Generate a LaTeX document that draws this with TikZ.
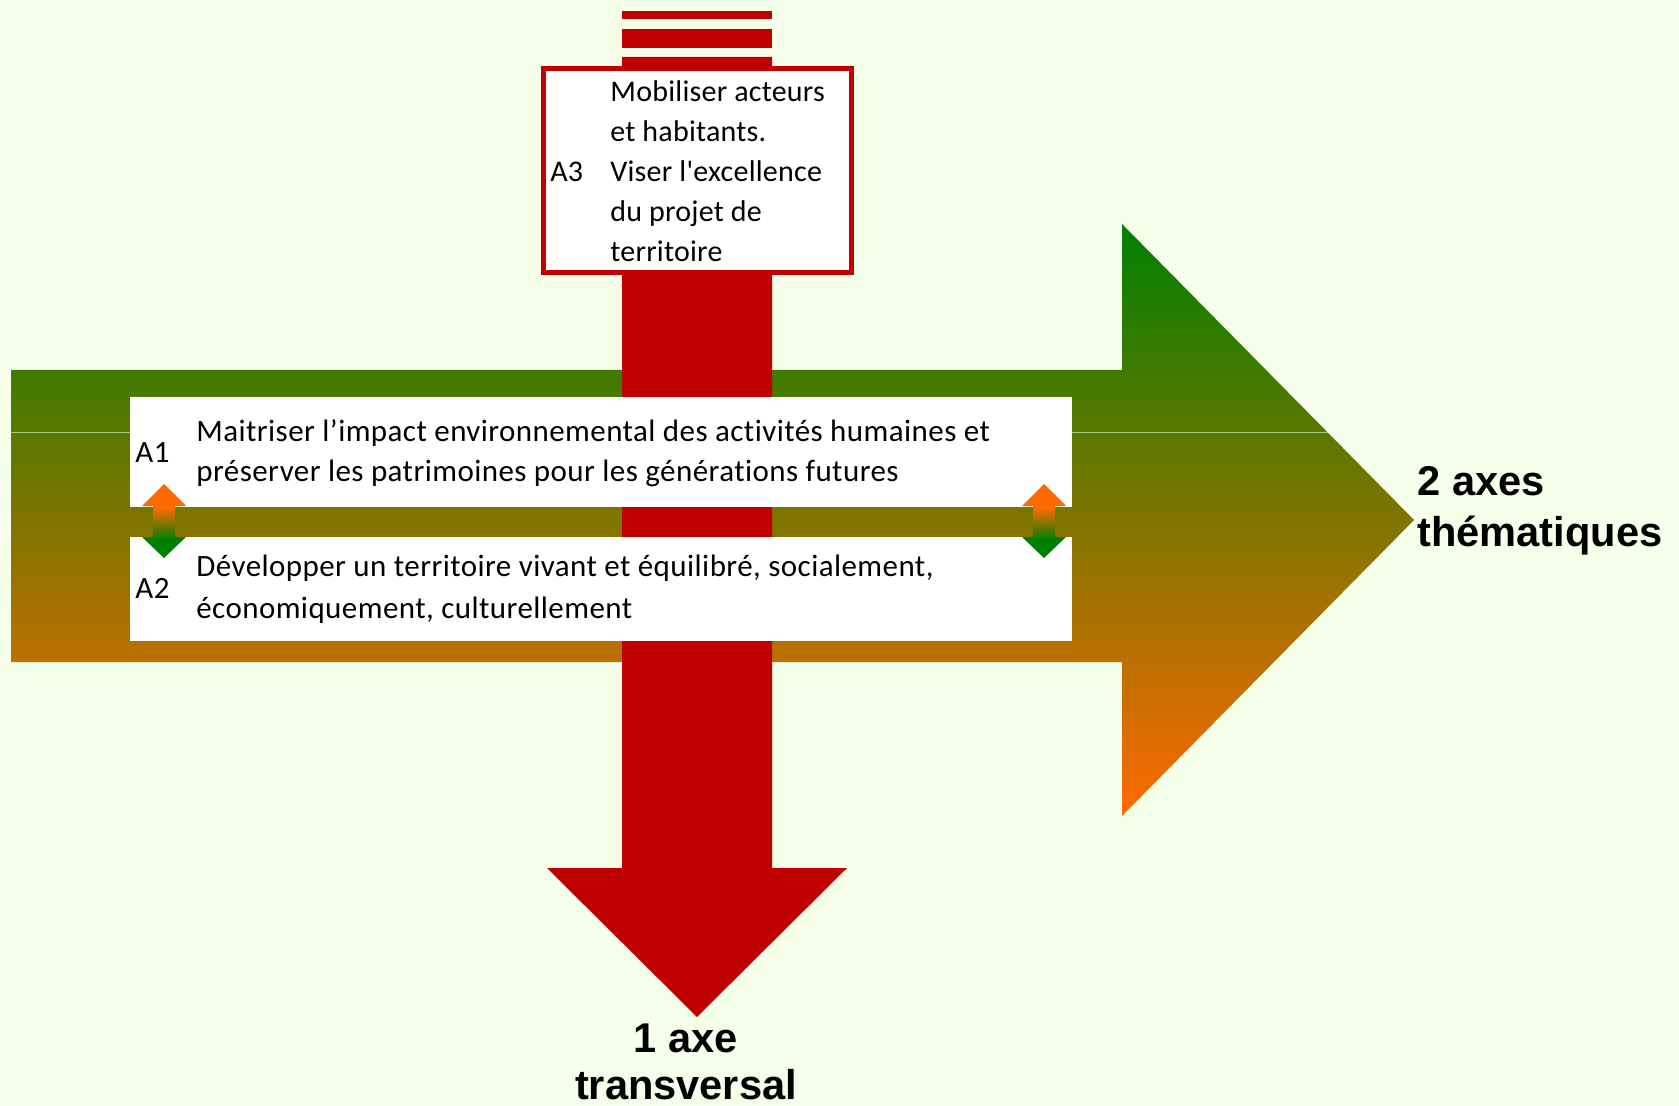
\documentclass[tikz,border=0pt]{standalone}
\usepackage{fontspec}
\setmainfont{Carlito}[Ligatures={TeXOff,NoCommon}]
\newfontfamily\bodyfont{Carlito}[LetterSpace=1.4, Ligatures={TeXOff,NoCommon}]
\newfontfamily\boxfont{Carlito}[LetterSpace=0.8, Ligatures={TeXOff,NoCommon}]
\newfontfamily\headfont{Liberation Sans}
\definecolor{bgc}{RGB}{246,255,234}
\definecolor{redc}{RGB}{192,0,0}
\definecolor{greenc}{RGB}{0,128,0}
\definecolor{orangec}{RGB}{255,106,0}
\definecolor{olivec}{RGB}{106,112,0}
\definecolor{splitc}{RGB}{165,205,125}
\pgfdeclareverticalshading{smallsh}{100bp}{color(0bp)=(greenc); color(25bp)=(greenc); color(38bp)=(greenc); color(59bp)=(orangec); color(75bp)=(orangec); color(100bp)=(orangec)}
\tikzset{
  bodytext/.style={inner sep=0pt, anchor=base west, font=\bodyfont\fontsize{15.5}{18}\selectfont},
  boxtext/.style={inner sep=0pt, anchor=base west, font=\boxfont\fontsize{15}{18}\selectfont},
  headtext/.style={inner sep=0pt, font=\headfont\bfseries\fontsize{20.8}{24}\selectfont},
  whitebox/.style={fill=white, draw=none},
  smallarrow/.style={shading=smallsh, draw=none},
}
\begin{document}
\begin{tikzpicture}[x=0.5pt,y=-0.5pt]
\useasboundingbox (0,0) rectangle (1679,1106);
\fill[bgc] (0,0) rectangle (1679,1106);

% green thematic arrow
\path[top color=greenc, middle color=olivec, bottom color=orangec]
  (11,370) -- (1122,370) -- (1122,224) -- (1414,520) -- (1122,816) -- (1122,662) -- (11,662) -- cycle;
\coordinate (splitL) at (11,433);
\coordinate (splitR) at (1328,433);
\draw[splitc, line width=0.5pt] (splitL) -- (splitR);

% red transversal arrow
\fill[redc] (622,11) rectangle (772,19);
\fill[redc] (622,29) rectangle (772,48);
\fill[redc] (622,57) -- (772,57) -- (772,868) -- (847,868) -- (697,1017) -- (547,868) -- (622,868) -- cycle;

% white boxes
\fill[whitebox] (130,397) rectangle (1072,507);
\fill[whitebox] (130,537) rectangle (1072,641);
\draw[redc, line width=2.5pt, fill=white] (543.2,68.2) rectangle (851.8,272.5);

% small double arrows
\foreach \cx in {164,1044}{
  \path[smallarrow] (\cx,484) -- (\cx+22,506) -- (\cx+11,506) -- (\cx+11,537) -- (\cx+22,537)
    -- (\cx,558) -- (\cx-22,537) -- (\cx-11,537) -- (\cx-11,506) -- (\cx-22,506) -- cycle;
}

% A1
\node[bodytext] (a1) at (135,463) {A1};
\node[bodytext] (a1l1) at (196,441.7) {Maitriser l’impact environnemental des activités humaines et};
\node[bodytext] (a1l2) at (196,481.7) {préserver les patrimoines pour les générations futures};
% A2
\node[bodytext] (a2) at (135,598.5) {A2};
\node[bodytext] (a2l1) at (196,576.7) {Développer un territoire vivant et équilibré, socialement,};
\node[bodytext] (a2l2) at (196,618.3) {économiquement, culturellement};
% A3
\node[boxtext] (a3) at (550,181.7) {A3};
\node[boxtext] (a3l1) at (610,101.7) {Mobiliser acteurs};
\node[boxtext] (a3l2) at (610,141.7) {et habitants.};
\node[boxtext] (a3l3) at (610,181.7) {Viser l'excellence};
\node[boxtext] (a3l4) at (610,221.7) {du projet de};
\node[boxtext] (a3l5) at (610,261.2) {territoire};

% headings
\node[headtext, anchor=base west] (th1) at (1417,495) {2 axes};
\node[headtext, anchor=base west] (th2) at (1417,546.7) {thématiques};
\node[headtext, anchor=base] (tr1) at (686,1052) {1 axe};
\node[headtext, anchor=base] (tr2) at (686,1099) {transversal};
\end{tikzpicture}
\end{document}
